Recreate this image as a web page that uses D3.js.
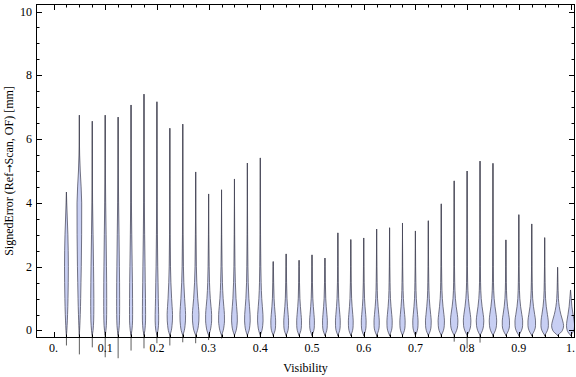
<!DOCTYPE html>
<html>
<head>
<meta charset="utf-8">
<script src="https://cdn.jsdelivr.net/npm/d3@7"></script>
<style>
  body { margin: 0; background: #fff; }
  svg { display: block; }
  text { font-family: "Liberation Serif", "DejaVu Serif", serif; fill: #000; }
</style>
</head>
<body>
<svg id="chart" width="576" height="377"></svg>
<script>
// visibility bins (one violin each)
const visibility = [0.025, 0.05, 0.075, 0.1, 0.125, 0.15, 0.175, 0.2, 0.225, 0.25,
  0.275, 0.3, 0.325, 0.35, 0.375, 0.4, 0.425, 0.45, 0.475, 0.5,
  0.525, 0.55, 0.575, 0.6, 0.625, 0.65, 0.675, 0.7, 0.725, 0.75,
  0.775, 0.8, 0.825, 0.85, 0.875, 0.9, 0.925, 0.95, 0.975, 1.0];

// largest and smallest signed error per bin [mm]
const errMax = [4.34, 6.75, 6.56, 6.75, 6.69, 7.07, 7.41, 7.17, 6.34, 6.47,
  4.97, 4.28, 4.41, 4.75, 5.25, 5.41, 2.16, 2.40, 2.20, 2.37,
  2.27, 3.06, 2.85, 2.90, 3.18, 3.22, 3.37, 3.12, 3.44, 3.97,
  4.69, 5.00, 5.31, 5.24, 2.84, 3.63, 3.34, 2.91, 1.98, 1.27];
const errMin = [-0.47, -0.75, -0.53, -0.84, -0.87, -0.63, -0.56, -0.40, -0.47, -0.37,
  -0.40, -0.30, -0.25, -0.20, -0.20, -0.20, -0.17, -0.18, -0.17, -0.18,
  -0.17, -0.18, -0.17, -0.18, -0.20, -0.18, -0.18, -0.18, -0.18, -0.20,
  -0.35, -0.56, -0.38, -0.20, -0.17, -0.18, -0.18, -0.18, -0.17, -0.17];

// error levels at which the density (violin half width) is read
const densityLevels = [-0.15, 0, 0.15, 0.3, 0.5, 0.75, 1, 1.5, 2, 3, 4, 5, 6];
// relative density per bin at those levels
const densities = [
  [0, 0.7, 1.1, 1.5, 1.9, 2.3, 2.6, 3.0, 3.2, 2.4, 0.5, 0, 0],
  [0, 0.4, 0.8, 1.1, 1.5, 1.9, 2.2, 2.7, 3.2, 3.8, 3.9, 1.5, 0],
  [0, 1.3, 1.9, 2.3, 2.5, 2.6, 2.6, 2.4, 2.1, 1.3, 0.5, 0.1, 0],
  [0, 1.2, 1.9, 2.2, 2.4, 2.5, 2.5, 2.4, 2.1, 1.5, 0.8, 0.3, 0],
  [0, 1.2, 1.9, 2.2, 2.4, 2.5, 2.5, 2.4, 2.1, 1.5, 0.8, 0.3, 0],
  [0, 1.4, 2.1, 2.5, 2.6, 2.6, 2.5, 2.3, 1.9, 1.2, 0.6, 0.2, 0],
  [0, 1.5, 2.2, 2.6, 2.7, 2.6, 2.5, 2.1, 1.8, 1.1, 0.6, 0.2, 0],
  [0, 1.8, 2.6, 2.9, 2.9, 2.6, 2.3, 1.9, 1.4, 0.8, 0.4, 0.15, 0],
  [0, 2.5, 3.6, 4.3, 4.5, 3.8, 3.0, 1.8, 1.1, 0.5, 0.2, 0, 0],
  [0, 2.6, 3.8, 4.5, 4.7, 4.0, 3.1, 1.8, 1.1, 0.5, 0.2, 0, 0],
  [0, 3.0, 4.5, 5.3, 5.5, 4.6, 3.4, 1.9, 1.1, 0.5, 0, 0, 0],
  [0, 2.8, 4.2, 5.0, 5.0, 4.0, 2.8, 1.5, 0.9, 0.3, 0, 0, 0],
  [0, 2.8, 4.2, 4.9, 4.8, 3.8, 2.7, 1.5, 0.9, 0.3, 0, 0, 0],
  [0, 2.8, 4.2, 4.8, 4.6, 3.6, 2.6, 1.5, 0.9, 0.4, 0.1, 0, 0],
  [0, 2.8, 4.1, 4.7, 4.5, 3.5, 2.5, 1.4, 0.9, 0.4, 0.15, 0, 0],
  [0, 2.7, 4.0, 4.6, 4.4, 3.4, 2.4, 1.4, 0.9, 0.4, 0.15, 0, 0],
  [0, 3.0, 3.9, 4.0, 3.3, 2.2, 1.4, 0.7, 0.3, 0, 0, 0, 0],
  [0, 3.0, 3.9, 4.0, 3.3, 2.2, 1.4, 0.7, 0.3, 0, 0, 0, 0],
  [0, 3.0, 3.9, 4.0, 3.3, 2.2, 1.4, 0.7, 0.3, 0, 0, 0, 0],
  [0, 3.0, 3.9, 4.0, 3.3, 2.2, 1.4, 0.7, 0.3, 0, 0, 0, 0],
  [0, 3.0, 3.9, 4.0, 3.3, 2.2, 1.4, 0.7, 0.3, 0, 0, 0, 0],
  [0, 3.0, 3.9, 4.0, 3.3, 2.2, 1.4, 0.7, 0.4, 0, 0, 0, 0],
  [0, 3.0, 3.9, 4.0, 3.3, 2.2, 1.4, 0.7, 0.4, 0, 0, 0, 0],
  [0, 3.0, 3.9, 4.0, 3.3, 2.2, 1.4, 0.7, 0.4, 0, 0, 0, 0],
  [0, 3.2, 4.3, 4.4, 3.6, 2.4, 1.5, 0.8, 0.4, 0, 0, 0, 0],
  [0, 3.2, 4.3, 4.4, 3.6, 2.4, 1.5, 0.8, 0.4, 0, 0, 0, 0],
  [0, 3.2, 4.3, 4.4, 3.6, 2.4, 1.5, 0.8, 0.4, 0, 0, 0, 0],
  [0, 3.2, 4.3, 4.4, 3.6, 2.4, 1.5, 0.8, 0.4, 0, 0, 0, 0],
  [0, 3.4, 4.6, 4.8, 3.9, 2.6, 1.6, 0.8, 0.4, 0, 0, 0, 0],
  [0, 3.6, 5.0, 5.3, 4.4, 2.9, 1.8, 0.9, 0.5, 0.1, 0, 0, 0],
  [0, 4.0, 5.8, 6.2, 5.3, 3.4, 2.0, 0.9, 0.5, 0.15, 0, 0, 0],
  [0, 4.0, 5.9, 6.3, 5.4, 3.5, 2.1, 0.9, 0.5, 0.15, 0, 0, 0],
  [0, 4.0, 5.8, 6.3, 5.3, 3.4, 2.0, 0.9, 0.5, 0.15, 0, 0, 0],
  [0, 4.0, 5.8, 6.2, 5.3, 3.4, 2.0, 0.9, 0.5, 0.15, 0, 0, 0],
  [0, 4.3, 6.0, 6.0, 4.7, 2.8, 1.6, 0.7, 0.3, 0, 0, 0, 0],
  [0, 4.5, 6.3, 6.4, 5.0, 3.0, 1.7, 0.8, 0.4, 0, 0, 0, 0],
  [0, 4.5, 6.3, 6.3, 4.9, 2.9, 1.6, 0.7, 0.3, 0, 0, 0, 0],
  [0, 4.6, 6.2, 6.0, 4.6, 2.7, 1.5, 0.7, 0.3, 0, 0, 0, 0],
  [0, 8.0, 10, 8.5, 5.5, 2.8, 1.4, 0.5, 0, 0, 0, 0, 0],
  [0, 5.5, 6.7, 6.0, 4.2, 2.3, 1.2, 0, 0, 0, 0, 0, 0]
];

const xTicks = [0, 0.1, 0.2, 0.3, 0.4, 0.5, 0.6, 0.7, 0.8, 0.9, 1];
const xTickLabels = ['0.', '0.1', '0.2', '0.3', '0.4', '0.5', '0.6', '0.7', '0.8', '0.9', '1.'];
const yTicks = [0, 2, 4, 6, 8, 10];
const yTickLabels = ['0', '2', '4', '6', '8', '10'];

const svg = d3.select('#chart');
const frameLeft = 36.5, frameRight = 574.5, frameTop = 4.5, frameBottom = 337.5;

const x = d3.scaleLinear().domain([-0.0329, 1.0077]).range([frameLeft, frameRight]);
const y = d3.scaleLinear().domain([-0.22, 10.22]).range([frameBottom, frameTop]);
const w = d3.scaleLinear().domain([0, 10]).range([0, 6]);

// violins
const area = d3.area()
  .y(function(d) { return y(d.v); })
  .x0(function(d) { return d.cx - w(d.d); })
  .x1(function(d) { return d.cx + w(d.d); })
  .curve(d3.curveMonotoneY);

const violins = svg.append('g');
visibility.forEach(function(v, i) {
  const cx = x(v);
  violins.append('line')
    .attr('x1', cx).attr('x2', cx)
    .attr('y1', y(errMin[i])).attr('y2', y(errMax[i]))
    .attr('stroke', '#5e5e5e')
    .attr('stroke-width', 1);
  // body: density profile below the bin maximum, closing at the maximum
  const pts = [];
  for (let j = 0; j < densityLevels.length; j++) {
    if (densityLevels[j] >= errMax[i]) break;
    pts.push({ v: densityLevels[j], d: densities[i][j], cx: cx });
  }
  pts.push({ v: errMax[i], d: 0, cx: cx });
  violins.append('path')
    .attr('d', area(pts.reverse()))
    .attr('fill', '#c8cff3')
    .attr('stroke', '#4a4a5c')
    .attr('stroke-width', 0.75);
});

// frame
svg.append('rect')
  .attr('x', frameLeft).attr('y', frameTop)
  .attr('width', frameRight - frameLeft).attr('height', frameBottom - frameTop)
  .attr('fill', 'none').attr('stroke', '#000').attr('stroke-width', 1);

const ticks = svg.append('g').attr('stroke', '#000').attr('stroke-width', 1);
const xMinor = d3.range(0, 41).map(function(k) { return k / 40; });
xMinor.forEach(function(t) {
  const major = xTicks.some(function(m) { return Math.abs(m - t) < 1e-9; });
  const len = major ? 5.5 : 3;
  const px = Math.round(x(t)) + 0.5;
  ticks.append('line').attr('x1', px).attr('x2', px).attr('y1', frameBottom).attr('y2', frameBottom - len);
  ticks.append('line').attr('x1', px).attr('x2', px).attr('y1', frameTop).attr('y2', frameTop + len);
});
const yMinor = d3.range(0, 21).map(function(k) { return k / 2; });
yMinor.forEach(function(t) {
  const major = yTicks.indexOf(t) >= 0;
  const len = major ? 5.5 : 3;
  const py = Math.round(y(t)) + 0.5;
  ticks.append('line').attr('x1', frameLeft).attr('x2', frameLeft + len).attr('y1', py).attr('y2', py);
  ticks.append('line').attr('x1', frameRight).attr('x2', frameRight - len).attr('y1', py).attr('y2', py);
});

// tick labels
svg.append('g').selectAll('text').data(xTicks).enter().append('text')
  .attr('x', function(d) { return x(d); })
  .attr('y', 352)
  .attr('text-anchor', 'middle')
  .style('font-size', '12px')
  .text(function(d, i) { return xTickLabels[i]; });

svg.append('g').selectAll('text').data(yTicks).enter().append('text')
  .attr('x', 32)
  .attr('y', function(d) { return y(d) + 4; })
  .attr('text-anchor', 'end')
  .style('font-size', '12px')
  .text(function(d, i) { return yTickLabels[i]; });

// axis titles
svg.append('text')
  .attr('x', (frameLeft + frameRight) / 2)
  .attr('y', 372)
  .attr('text-anchor', 'middle')
  .style('font-size', '12px')
  .text('Visibility');

const yTitle = svg.append('text')
  .attr('transform', 'translate(13,' + ((frameTop + frameBottom) / 2) + ') rotate(-90)')
  .attr('text-anchor', 'middle')
  .style('font-size', '12px');
yTitle.append('tspan').text('SignedError (Ref');
yTitle.append('tspan').style('font-family', '"DejaVu Sans"').style('font-size', '10px').text('\u2192');
yTitle.append('tspan').text('Scan, OF) [mm]');
</script>
</body>
</html>
